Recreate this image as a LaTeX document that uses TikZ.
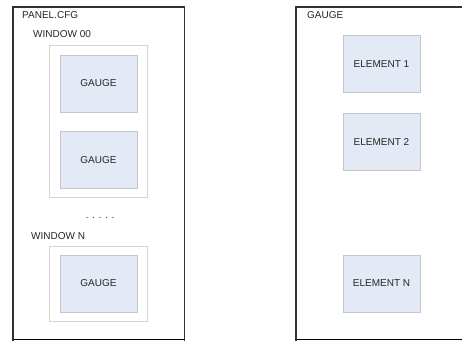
\documentclass[tikz,border=0pt]{standalone}
\usepackage{fontspec}
\setmainfont{Liberation Sans}
\usetikzlibrary{positioning}
\definecolor{panelline}{RGB}{50,50,50}
\definecolor{baseline}{RGB}{235,235,235}
\definecolor{winline}{RGB}{212,212,212}
\definecolor{gaugefill}{RGB}{228,234,245}
\definecolor{gaugeline}{RGB}{195,198,204}

\begin{document}
\begin{tikzpicture}[x=1pt,y=-1pt,
    every node/.style={font=\fontsize{10}{12}\selectfont,text=black!85},
    panelbox/.style={minimum width=171pt,minimum height=332pt,anchor=north west,inner sep=0pt},
    winbox/.style={draw=winline,line width=0.8pt,minimum width=98pt,anchor=north west,inner sep=0pt},
    gaugebox/.style={draw=gaugeline,fill=gaugefill,line width=0.8pt,minimum width=77pt,minimum height=57pt,inner sep=0pt},
    caption/.style={anchor=west,inner sep=0pt}]

  \useasboundingbox (0,0) rectangle (462,340);
  \clip (0,0) rectangle (462,340);
  \fill[white] (0,0) rectangle (462,340);

  % ── left: panel.cfg ─────────────────────────────────
  \node[panelbox] (panel) at (13,7) {};
  \draw[baseline,line width=0.8pt] (panel.south west) -- (panel.south east);
  \draw[panelline,line width=1.3pt] ([yshift=-2pt]panel.south west) -- (panel.north west)
    -- (panel.north east) -- ([yshift=-2pt]panel.south east);
  \node[caption] (paneltitle) at (22,15) {PANEL.CFG};

  % window 00
  \node[caption] (win0title) at (33,34) {WINDOW 00};
  \node[winbox,minimum height=152pt] (win0) at (49,45) {};
  \node[gaugebox] (g1) at (98.5,83.5) {GAUGE};
  \node[gaugebox,below=19pt of g1] (g2) {GAUGE};

  \node[inner sep=0pt] (dots) at (100,218) {. . . . .};

  % window N
  \node[caption] (winNtitle) at (31,236) {WINDOW N};
  \node[winbox,minimum height=75pt] (winN) at (49,246) {};
  \node[gaugebox] (g3) at (98.5,283.5) {GAUGE};

  % ── right: gauge ─────────────────────────────────────
  \node[panelbox,minimum width=200pt] (gauge) at (296,7) {};
  \draw[baseline,line width=0.8pt] (gauge.south west) -- (gauge.south east);
  \draw[panelline,line width=1.3pt] ([yshift=-2pt]gauge.south west) -- (gauge.north west)
    -- (gauge.north east);
  \node[caption] (gaugetitle) at (307,15) {GAUGE};

  \node[gaugebox] (e1) at (381.5,64) {ELEMENT 1};
  \node[gaugebox,below=20pt of e1] (e2) {ELEMENT 2};
  \node[gaugebox] (eN) at (381.5,283.5) {ELEMENT N};

\end{tikzpicture}
\end{document}
